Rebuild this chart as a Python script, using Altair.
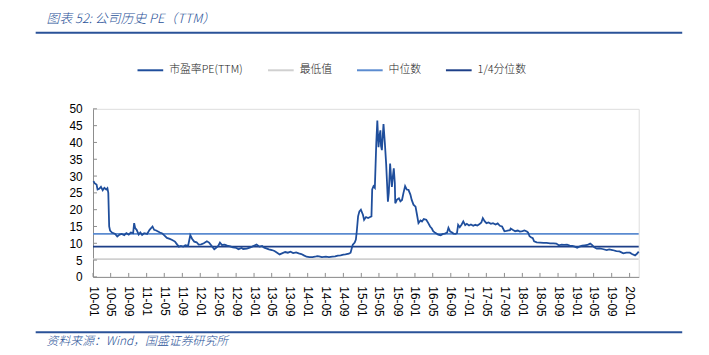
import altair as alt
import pandas as pd

# ---- data ----
dates = [
    "2010-01-04", "2010-01-13", "2010-01-25", "2010-02-01", "2010-02-12", "2010-02-24",
    "2010-03-08", "2010-03-19", "2010-04-01", "2010-04-09", "2010-04-15", "2010-04-21",
    "2010-04-27", "2010-05-10", "2010-06-01", "2010-06-15", "2010-07-01", "2010-07-15",
    "2010-08-02", "2010-08-16", "2010-09-01", "2010-09-15", "2010-10-01", "2010-10-08",
    "2010-10-15", "2010-10-25", "2010-11-08", "2010-11-19", "2010-12-01", "2010-12-15",
    "2011-01-04", "2011-01-21", "2011-02-10", "2011-02-21", "2011-03-07", "2011-04-01",
    "2011-04-15", "2011-05-03", "2011-05-19", "2011-06-07", "2011-06-24", "2011-07-13",
    "2011-07-28", "2011-08-08", "2011-08-22", "2011-09-07", "2011-09-21", "2011-10-10",
    "2011-10-25", "2011-11-07", "2011-11-21", "2011-12-07", "2011-12-21", "2012-01-07",
    "2012-01-25", "2012-02-15", "2012-03-01", "2012-03-15", "2012-04-05", "2012-04-16",
    "2012-05-02", "2012-05-14", "2012-05-28", "2012-06-15", "2012-07-02", "2012-07-23",
    "2012-08-10", "2012-09-03", "2012-09-17", "2012-10-08", "2012-10-19", "2012-11-13",
    "2012-12-03", "2012-12-19", "2013-01-07", "2013-01-18", "2013-02-07", "2013-02-25",
    "2013-03-11", "2013-03-25", "2013-04-12", "2013-05-02", "2013-05-20", "2013-06-07",
    "2013-06-24", "2013-07-10", "2013-08-01", "2013-08-19", "2013-09-06", "2013-09-24",
    "2013-10-14", "2013-11-01", "2013-11-19", "2013-12-06", "2013-12-24", "2014-01-13",
    "2014-02-03", "2014-02-19", "2014-03-07", "2014-03-19", "2014-04-08", "2014-05-05",
    "2014-05-26", "2014-06-18", "2014-07-07", "2014-07-25", "2014-08-13", "2014-09-01",
    "2014-09-15", "2014-10-08", "2014-10-20", "2014-10-28", "2014-11-04", "2014-11-17",
    "2014-11-25", "2014-12-01", "2014-12-10", "2014-12-19", "2014-12-29", "2015-01-12",
    "2015-01-20", "2015-02-02", "2015-02-16", "2015-03-02", "2015-03-11", "2015-03-16",
    "2015-03-25", "2015-04-03", "2015-04-13", "2015-04-20", "2015-04-28", "2015-05-05",
    "2015-05-11", "2015-05-15", "2015-05-21", "2015-05-27", "2015-06-01", "2015-06-10",
    "2015-06-19", "2015-06-25", "2015-07-01", "2015-07-07", "2015-07-16", "2015-07-22",
    "2015-07-28", "2015-08-04", "2015-08-10", "2015-08-17", "2015-08-20", "2015-09-01",
    "2015-09-14", "2015-09-24", "2015-10-05", "2015-10-15", "2015-10-26", "2015-11-06",
    "2015-11-18", "2015-12-01", "2015-12-10", "2015-12-22", "2016-01-05", "2016-01-15",
    "2016-01-25", "2016-02-08", "2016-02-18", "2016-03-01", "2016-03-18", "2016-04-01",
    "2016-04-13", "2016-04-25", "2016-05-04", "2016-05-18", "2016-06-07", "2016-06-24",
    "2016-07-10", "2016-07-22", "2016-08-07", "2016-08-16", "2016-08-28", "2016-09-10",
    "2016-09-19", "2016-10-03", "2016-10-13", "2016-10-21", "2016-11-01", "2016-11-14",
    "2016-11-25", "2016-12-08", "2016-12-19", "2017-01-03", "2017-01-16", "2017-02-01",
    "2017-02-15", "2017-03-01", "2017-03-16", "2017-03-28", "2017-04-07", "2017-04-19",
    "2017-05-02", "2017-05-16", "2017-06-01", "2017-06-15", "2017-07-03", "2017-07-17",
    "2017-08-01", "2017-08-16", "2017-09-01", "2017-09-15", "2017-10-09", "2017-10-13",
    "2017-10-27", "2017-11-13", "2017-12-01", "2017-12-15", "2018-01-02", "2018-01-15",
    "2018-02-01", "2018-02-09", "2018-02-19", "2018-03-01", "2018-03-13", "2018-03-22",
    "2018-04-09", "2018-05-02", "2018-05-25", "2018-06-15", "2018-07-09", "2018-08-01",
    "2018-08-20", "2018-09-06", "2018-09-25", "2018-10-12", "2018-11-01", "2018-11-19",
    "2018-12-07", "2018-12-24", "2019-01-09", "2019-01-24", "2019-02-12", "2019-03-01",
    "2019-03-19", "2019-04-08", "2019-04-18", "2019-05-06", "2019-05-22", "2019-06-10",
    "2019-07-01", "2019-07-29", "2019-08-15", "2019-09-06", "2019-10-03", "2019-10-24",
    "2019-11-19", "2019-12-10", "2020-01-03", "2020-01-17", "2020-02-07", "2020-02-18",
    "2020-03-03",
]
pe_values = [
    28.5, 27.8, 27.5, 26.0, 26.2, 26.8,
    25.8, 26.5, 26.0, 26.4, 25.0, 15.0,
    13.8, 13.2, 12.8, 12.0, 12.6, 12.8,
    12.4, 13.0, 12.6, 13.2, 13.0, 16.0,
    14.5, 14.0, 12.6, 13.2, 12.5, 13.0,
    12.8, 14.0, 15.0, 14.0, 13.8, 13.2,
    13.0, 12.3, 11.6, 11.3, 11.0, 10.5,
    9.6, 9.0, 9.2, 9.0, 9.4, 9.2,
    12.4, 11.3, 10.5, 10.3, 9.6, 9.7,
    10.0, 10.6, 10.2, 9.4, 8.2, 8.6,
    9.2, 10.2, 9.5, 9.6, 9.3, 9.1,
    8.8, 8.6, 8.2, 8.6, 8.3, 8.4,
    8.7, 9.0, 9.4, 9.6, 9.0, 9.2,
    8.7, 8.5, 8.2, 8.0, 7.7, 7.2,
    6.7, 7.0, 7.4, 7.2, 7.5, 7.1,
    7.3, 7.0, 6.8, 6.4, 6.0, 5.9,
    5.9, 6.0, 6.2, 6.1, 5.9, 6.0,
    5.9, 6.0, 6.1, 6.3, 6.4, 6.6,
    6.7, 6.9, 7.2, 8.5, 9.6, 10.2,
    11.1, 13.5, 18.0, 19.5, 20.0, 18.5,
    17.0, 17.8, 17.5, 17.8, 18.0, 26.0,
    27.0, 26.5, 40.0, 46.5, 38.6, 42.0,
    43.6, 39.0, 37.7, 42.0, 45.5, 40.0,
    33.7, 28.0, 22.4, 25.0, 33.7, 30.0,
    26.8, 30.0, 32.3, 28.0, 21.9, 23.0,
    23.4, 22.5, 22.9, 25.0, 27.0, 26.0,
    25.9, 24.5, 22.9, 21.5, 20.9, 18.5,
    16.0, 16.8, 16.5, 17.2, 17.0, 16.0,
    15.0, 14.4, 13.6, 13.1, 12.6, 12.4,
    12.8, 12.9, 13.2, 14.6, 13.5, 13.2,
    12.9, 12.8, 13.0, 15.5, 14.8, 15.6,
    16.5, 15.4, 15.8, 15.3, 15.6, 15.2,
    15.5, 15.3, 15.7, 16.2, 17.5, 16.6,
    16.0, 16.2, 15.8, 16.0, 15.6, 15.9,
    15.2, 15.0, 13.6, 13.7, 13.9, 14.4,
    14.0, 13.6, 13.8, 13.5, 13.6, 13.8,
    13.5, 13.2, 12.1, 11.8, 11.5, 10.6,
    10.3, 10.2, 10.1, 10.1, 10.0, 10.0,
    9.9, 9.4, 9.6, 9.5, 9.6, 9.3,
    9.2, 9.0, 8.7, 9.0, 9.3, 9.4,
    9.5, 9.9, 9.6, 8.8, 8.4, 8.5,
    8.3, 8.0, 8.2, 8.0, 7.7, 7.6,
    7.0, 7.2, 7.2, 6.8, 6.4, 6.8,
    7.5,
]

series_names = ["市盈率PE(TTM)", "最低值", "中位数", "1/4分位数"]
series_colors = ["#1f4e9c", "#d0d0d0", "#5b8bd0", "#1d3f88"]
ref_names = ["最低值", "中位数", "1/4分位数"]
ref_values = [5.3, 12.8, 9.0]

y_ticks = [0, 5, 10, 15, 20, 25, 30, 35, 40, 45, 50]
x_tick_dates = [f"{y}-{m:02d}-01" for y in range(2010, 2021) for m in (1, 5, 9)][:-2]

title_text = "图表 52:  公司历史 PE（TTM）"
source_text = "资料来源：Wind，国盛证券研究所"

W, H = 552, 170
BLUE = "#2a5298"

pe_df = pd.DataFrame({"date": dates, "value": pe_values, "series": series_names[0]})
ref_df = pd.DataFrame({"value": ref_values, "series": ref_names})
ytick_df = pd.DataFrame({"v": y_ticks})
xtick_df = pd.DataFrame({"d": x_tick_dates})

x_scale = alt.Scale(
    type="utc",
    domain=[alt.DateTime(year=2010, month=1, date=1, utc=True),
            alt.DateTime(year=2020, month=3, date=3, utc=True)],
)
y_scale = alt.Scale(domain=[0, 50], nice=False)

color = alt.Color(
    "series:N",
    scale=alt.Scale(domain=series_names, range=series_colors),
    legend=alt.Legend(
        title=None, orient="none", legendX=44, legendY=-53, direction="horizontal",
        columns=4, columnPadding=21, symbolType="stroke", symbolSize=676,
        symbolStrokeWidth=2, labelOffset=5, labelFont="Noto Sans CJK SC",
        labelFontSize=11, labelFontWeight=300, labelColor="#222222", padding=0,
        labelLimit=200,
    ),
)

x_axis = alt.Axis(
    values=[alt.DateTime(year=int(s[:4]), month=int(s[5:7]), date=1, utc=True) for s in x_tick_dates],
    labelExpr="utcFormat(datum.value, '%y-%m')", labelAngle=90, ticks=False, grid=False,
    title=None, domainColor="#8c8c8c", labelFont="Liberation Sans", labelFontSize=12,
    labelColor="#000000", labelPadding=9, labelOverlap=False, labelFlush=False,
)
y_axis = alt.Axis(
    values=y_ticks, ticks=False, grid=False, title=None, domainColor="#8c8c8c",
    labelFont="Liberation Sans", labelFontSize=12, labelColor="#000000", labelPadding=11,
)

rules = alt.Chart(ref_df).mark_rule(strokeWidth=1.8).encode(
    y=alt.Y("value:Q", scale=y_scale, axis=y_axis),
    color=color,
)

line = alt.Chart(pe_df).mark_line(strokeWidth=1.8).encode(
    x=alt.X("date:T", scale=x_scale, axis=x_axis),
    y=alt.Y("value:Q", scale=y_scale, axis=y_axis),
    color=color,
)

yticks = alt.Chart(ytick_df).mark_rule(color="#8c8c8c", strokeWidth=1).encode(
    y=alt.Y("v:Q", scale=y_scale, axis=y_axis), x=alt.value(0), x2=alt.value(4),
)
xticks = alt.Chart(xtick_df).mark_rule(color="#8c8c8c", strokeWidth=1).encode(
    x=alt.X("d:T", scale=x_scale, axis=x_axis), y=alt.value(H), y2=alt.value(H - 4),
)

deco_df = pd.DataFrame({"k": [0]})
top_rule = alt.Chart(deco_df).mark_rule(color=BLUE, strokeWidth=2).encode(
    x=alt.value(-58), x2=alt.value(596), y=alt.value(-77)
)
bottom_rule = alt.Chart(deco_df).mark_rule(color=BLUE, strokeWidth=2).encode(
    x=alt.value(-58), x2=alt.value(596), y=alt.value(226)
)
title_mark = alt.Chart(pd.DataFrame({"t": [title_text]})).mark_text(
    align="left", baseline="middle", font="Noto Sans CJK SC", fontSize=13,
    fontStyle="italic", fontWeight=300, color=BLUE,
).encode(text="t:N", x=alt.value(-47), y=alt.value(-91))
source_mark = alt.Chart(pd.DataFrame({"t": [source_text]})).mark_text(
    align="left", baseline="middle", font="Noto Sans CJK SC", fontSize=12,
    fontStyle="italic", fontWeight=300, color=BLUE,
).encode(text="t:N", x=alt.value(-47), y=alt.value(235))

chart = alt.layer(
    rules, line, yticks, xticks, top_rule, bottom_rule, title_mark, source_mark
).properties(
    width=W, height=H,
    autosize=alt.AutoSizeParams(type="none"),
    padding={"left": 86, "top": 100, "right": 63, "bottom": 77},
).configure_view(stroke=None).configure(background="#ffffff")

chart.save("out.html", embed_options={"renderer": "svg", "actions": False})
